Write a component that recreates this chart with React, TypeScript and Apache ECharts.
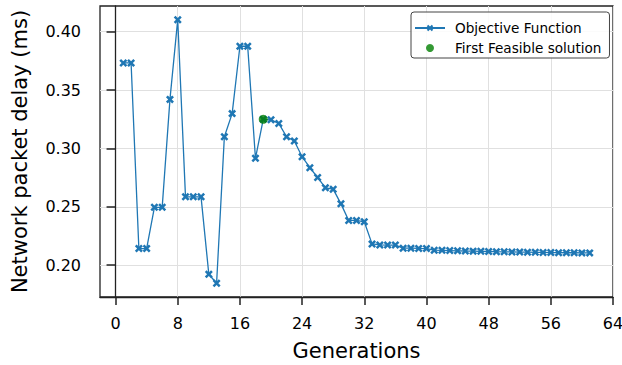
import React, { useEffect, useRef } from "react";
import * as echarts from "echarts";

const generations: number[] = Array.from({ length: 61 }, (_, i) => i + 1);
const objective: number[] = [
  0.3732, 0.3732, 0.2142, 0.2142, 0.2495, 0.2495, 0.342, 0.4103, 0.2585, 0.2585,
  0.2585, 0.1922, 0.1845, 0.31, 0.3298, 0.3875, 0.3875, 0.2915, 0.3249, 0.3245,
  0.3214, 0.31, 0.3063, 0.2929, 0.2835, 0.2751, 0.2662, 0.2651, 0.2525, 0.2383,
  0.2383, 0.2371, 0.2182, 0.2173, 0.2172, 0.2172, 0.2145, 0.2145, 0.2143, 0.2142,
  0.2128, 0.2127, 0.2125, 0.2123, 0.2121, 0.212, 0.2118, 0.2117, 0.2115, 0.2114,
  0.2113, 0.2112, 0.2111, 0.211, 0.2109, 0.2108, 0.2107, 0.2106, 0.2106, 0.2105,
  0.2105,
];
const firstFeasible: [number, number][] = [[19, 0.3249]];
const xTicks: number[] = [0, 8, 16, 24, 32, 40, 48, 56, 64];
const yTicks: number[] = [0.2, 0.25, 0.3, 0.35, 0.4];

const X_PATH =
  "path://M2.2,0 L5,2.8 L7.8,0 L10,2.2 L7.2,5 L10,7.8 L7.8,10 L5,7.2 L2.2,10 L0,7.8 L2.8,5 L0,2.2 Z";

export default function App() {
  const ref = useRef<HTMLDivElement>(null);
  useEffect(() => {
    if (!ref.current) return;
    const chart = echarts.init(ref.current, null, { renderer: "svg" });
    const font = "DejaVu Sans";
    chart.setOption({
      animation: false,
      textStyle: { fontFamily: font },
      grid: {
        left: 100,
        right: 9,
        top: 6,
        bottom: 68,
        outerBoundsMode: "none",
        containLabel: false,
        show: true,
        borderColor: "#222",
        borderWidth: 1.3,
        backgroundColor: "transparent",
      },
      legend: {
        orient: "vertical",
        left: 411,
        top: 12,
        itemWidth: 30,
        itemHeight: 8,
        itemGap: 6,
        padding: [9, 8, 3, 3],
        borderColor: "#444",
        borderWidth: 1,
        borderRadius: 3,
        backgroundColor: "rgba(255,255,255,0.85)",
        textStyle: {
          fontFamily: font,
          fontSize: 13.6,
          color: "#000",
          padding: [0, 0, 0, 5],
        },
        data: ["Objective Function", "First Feasible solution"],
      },
      xAxis: {
        type: "value",
        min: -2,
        max: 64,
        name: "Generations",
        nameLocation: "middle",
        nameGap: 43,
        nameTextStyle: { fontFamily: font, fontSize: 21, color: "#000" },
        axisLine: { show: true, lineStyle: { color: "#222", width: 1.3 } },
        axisTick: {
          show: true,
          length: 8,
          inside: false,
          customValues: xTicks,
          lineStyle: { color: "#222", width: 1.5 },
        },
        axisLabel: {
          customValues: xTicks,
          fontFamily: font,
          fontSize: 16,
          color: "#000",
          margin: 18,
        },
        splitLine: { show: true, lineStyle: { color: "#e0e0e0", width: 1 } },
      },
      yAxis: {
        type: "value",
        min: 0.1727,
        max: 0.422,
        name: "Network packet delay (ms)",
        nameLocation: "middle",
        nameGap: 70,
        nameTextStyle: { fontFamily: font, fontSize: 21, color: "#000" },
        axisLine: { show: true, lineStyle: { color: "#222", width: 1.3 } },
        axisTick: {
          show: true,
          length: 9,
          inside: false,
          customValues: yTicks,
          lineStyle: { color: "#222", width: 1.5 },
        },
        axisLabel: {
          customValues: yTicks,
          fontFamily: font,
          fontSize: 16,
          color: "#000",
          margin: 19,
          formatter: (v: number) => v.toFixed(2),
        },
        splitLine: { show: true, lineStyle: { color: "#e0e0e0", width: 1 } },
      },
      series: [
        {
          name: "Objective Function",
          type: "line",
          data: generations.map((g, i) => [g, objective[i]]),
          symbol: X_PATH,
          symbolSize: 8,
          showAllSymbol: true,
          lineStyle: { color: "#1f77b4", width: 1.3 },
          itemStyle: { color: "#1f77b4" },
          z: 2,
        },
        {
          name: "First Feasible solution",
          type: "scatter",
          data: firstFeasible,
          symbol: "circle",
          symbolSize: 9,
          itemStyle: { color: "#008000" },
          z: 3,
        },
      ],
    });
    return () => chart.dispose();
  }, []);
  return (
    <div
      ref={ref}
      style={{ position: "absolute", left: 0, top: 0, width: 622, height: 365 }}
    />
  );
}
